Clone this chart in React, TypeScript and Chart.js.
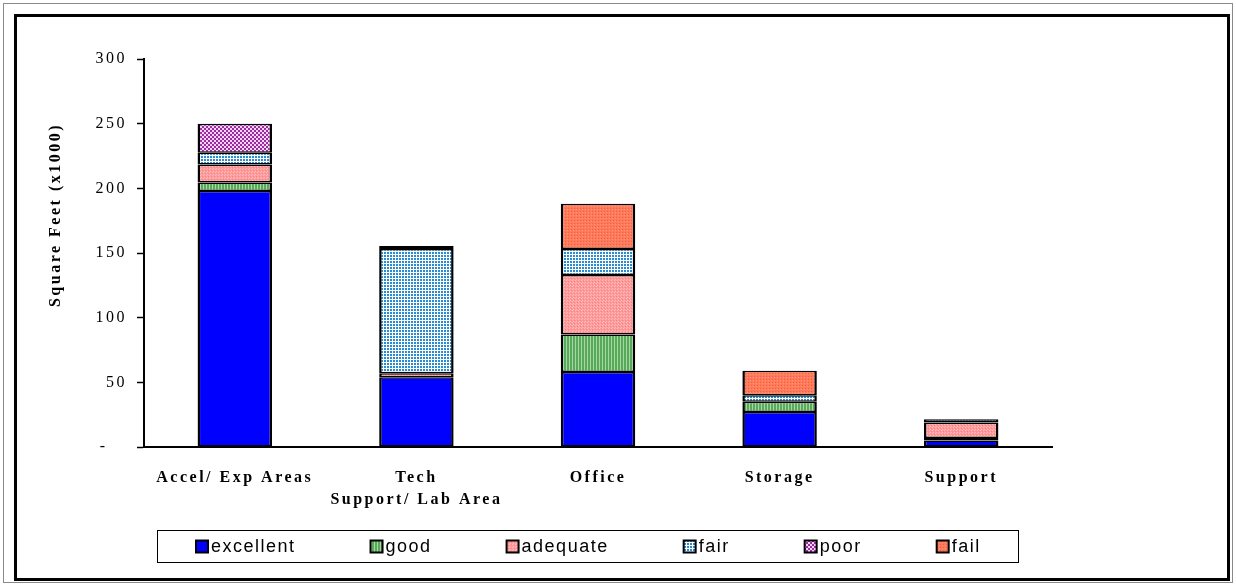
import React, { useEffect, useRef } from 'react';
import { Chart, registerables } from 'chart.js';

Chart.register(...registerables);

// Space categories and condition ratings (square feet, in thousands)
const categories = [['Accel/ Exp Areas'], ['Tech', 'Support/ Lab Area'], ['Office'], ['Storage'], ['Support']];
const excellent = [198, 54, 58, 27, 5];
const good = [6.5, 0, 29, 8, 2];
const adequate = [14, 3, 46, 0, 12];
const fair = [9, 96, 20, 5, 2.5];
const poor = [22.5, 0, 0, 0, 0];
const fail = [0, 2.5, 35, 19, 0];
const seriesNames = ['excellent', 'good', 'adequate', 'fair', 'poor', 'fail'];
const yTicks = [0, 50, 100, 150, 200, 250, 300];
const yTitle = 'Square Feet (x1000)';

const SERIF = '"Times New Roman", "Liberation Serif", serif';
const SANS = 'Arial, "Liberation Sans", sans-serif';

type Painter = (g: CanvasRenderingContext2D) => void;

function makePattern(ctx: CanvasRenderingContext2D, w: number, h: number, paint: Painter) {
  const c = document.createElement('canvas');
  c.width = w;
  c.height = h;
  const g = c.getContext('2d')!;
  paint(g);
  return ctx.createPattern(c, 'repeat')!;
}

function buildFills(ctx: CanvasRenderingContext2D) {
  const solidBlue = '#0000ff';
  const green = makePattern(ctx, 3, 1, (g) => {
    g.fillStyle = '#5aa85a';
    g.fillRect(0, 0, 3, 1);
    g.fillStyle = '#a4d9a4';
    g.fillRect(2, 0, 1, 1);
  });
  const pink = makePattern(ctx, 3, 3, (g) => {
    g.fillStyle = '#ff9999';
    g.fillRect(0, 0, 3, 3);
    g.fillStyle = '#ffbcbc';
    g.fillRect(0, 0, 1, 1);
    g.fillRect(2, 1, 1, 1);
    g.fillStyle = '#f28a8a';
    g.fillRect(1, 2, 1, 1);
  });
  const blueGrid = makePattern(ctx, 3, 3, (g) => {
    g.fillStyle = '#ffffff';
    g.fillRect(0, 0, 3, 3);
    g.fillStyle = '#2a8bd0';
    g.fillRect(0, 0, 2, 2);
  });
  const purple = makePattern(ctx, 4, 4, (g) => {
    g.fillStyle = '#f2d2f2';
    g.fillRect(0, 0, 4, 4);
    g.fillStyle = '#9c2aa0';
    g.fillRect(0, 0, 2, 2);
    g.fillRect(2, 2, 2, 2);
  });
  const orange = makePattern(ctx, 3, 3, (g) => {
    g.fillStyle = '#ff7a5a';
    g.fillRect(0, 0, 3, 3);
    g.fillStyle = '#ef5f42';
    g.fillRect(1, 1, 1, 1);
    g.fillStyle = '#ff9476';
    g.fillRect(0, 2, 1, 1);
  });
  return [solidBlue, green, pink, blueGrid, purple, orange];
}

const spacingPlugin = {
  id: 'letterSpacing',
  beforeUpdate(chart: any) {
    chart.ctx.letterSpacing = '2.5px';
  },
  beforeDraw(chart: any) {
    const ctx = chart.ctx as CanvasRenderingContext2D;
    ctx.letterSpacing = '2.5px';
    ctx.save();
    ctx.fillStyle = '#ffffff';
    ctx.fillRect(0, 0, chart.width, chart.height);
    ctx.restore();
  },
};

const decorPlugin = {
  id: 'decor',
  afterDraw(chart: any) {
    const ctx = chart.ctx as CanvasRenderingContext2D;

    // Rotated y-axis title
    ctx.save();
    ctx.letterSpacing = '2.5px';
    ctx.font = `bold 16px ${SERIF}`;
    ctx.fillStyle = '#000';
    ctx.textAlign = 'center';
    ctx.textBaseline = 'middle';
    ctx.translate(56, 215);
    ctx.rotate(-Math.PI / 2);
    ctx.fillText(yTitle, 0, 0);
    ctx.restore();

    // Boxed legend below the plot
    const box = { left: 157.5, top: 530.5, right: 1018.5, bottom: 562.5 };
    ctx.save();
    ctx.strokeStyle = '#000';
    ctx.lineWidth = 1;
    ctx.strokeRect(box.left, box.top, box.right - box.left, box.bottom - box.top);
    ctx.letterSpacing = '1.5px';
    ctx.font = `18px ${SANS}`;
    ctx.textBaseline = 'middle';
    ctx.textAlign = 'left';
    const sw = 12;
    const gapBox = 3;
    const gapItem = 75;
    const datasets = chart.data.datasets;
    const widths = datasets.map((d: any) => ctx.measureText(d.label).width);
    const total = widths.reduce((a: number, w: number) => a + sw + gapBox + w, 0) + gapItem * (datasets.length - 1);
    let x = Math.round((box.left + box.right) / 2 - total / 2);
    const cy = (box.top + box.bottom) / 2;
    datasets.forEach((d: any, i: number) => {
      ctx.fillStyle = d.backgroundColor;
      ctx.fillRect(x, cy - sw / 2, sw, sw);
      ctx.lineWidth = 2;
      ctx.strokeStyle = '#000';
      ctx.strokeRect(x, cy - sw / 2, sw, sw);
      ctx.fillStyle = '#000';
      ctx.fillText(d.label, x + sw + gapBox, cy + 1);
      x += sw + gapBox + widths[i] + gapItem;
    });
    ctx.restore();

    // Double frame around the whole figure
    ctx.save();
    ctx.strokeStyle = '#8a8a8a';
    ctx.lineWidth = 1;
    ctx.strokeRect(3.5, 3.5, 1229, 579);
    ctx.strokeStyle = '#000';
    ctx.lineWidth = 3;
    ctx.strokeRect(15.5, 15.5, 1213, 564);
    ctx.restore();
  },
};

export default function App() {
  const ref = useRef<HTMLCanvasElement | null>(null);

  useEffect(() => {
    const canvas = ref.current!;
    const ctx = canvas.getContext('2d')!;
    const fills = buildFills(ctx);
    const series = [excellent, good, adequate, fair, poor, fail];

    const chart = new Chart(canvas, {
      type: 'bar',
      data: {
        labels: categories,
        datasets: series.map((values, i) => ({
          label: seriesNames[i],
          data: values,
          backgroundColor: fills[i] as any,
          borderColor: '#000',
          borderWidth: { top: 1.5, bottom: 1.5, left: 2.5, right: 2.5 },
          borderSkipped: false,
          barPercentage: 0.41,
          categoryPercentage: 1,
        })),
      },
      options: {
        responsive: false,
        animation: false,
        devicePixelRatio: 1,
        events: [],
        layout: { padding: { left: 0, right: 184, top: 59, bottom: 37 } },
        plugins: {
          legend: { display: false },
          tooltip: { enabled: false },
          title: { display: false },
        },
        scales: {
          x: {
            stacked: true,
            grid: { display: true, drawOnChartArea: false, drawTicks: false },
            border: { display: true, color: '#000', width: 2 },
            ticks: {
              color: '#000',
              padding: 20,
              maxRotation: 0,
              autoSkip: false,
              font: { family: SERIF, size: 16, weight: 'bold', lineHeight: 1.38 },
            },
            afterFit(scale: any) {
              scale.height = 100;
            },
          },
          y: {
            stacked: true,
            min: 0,
            max: 300,
            afterBuildTicks(scale: any) {
              scale.ticks = yTicks.map((v) => ({ value: v }));
            },
            grid: {
              display: true,
              drawOnChartArea: false,
              drawTicks: true,
              tickLength: 7,
              tickColor: '#000',
              tickWidth: 1.5,
            },
            border: { display: true, color: '#000', width: 2 },
            ticks: {
              color: '#000',
              padding: 10,
              font: { family: SERIF, size: 16 },
              callback: (v: any) => (Number(v) === 0 ? '-   ' : String(v)),
            },
            afterFit(scale: any) {
              scale.width = 144;
            },
          },
        },
      },
      plugins: [spacingPlugin, decorPlugin],
    });

    return () => chart.destroy();
  }, []);

  return (
    <div style={{ position: 'fixed', left: 0, top: 0, width: 1236, height: 584, background: '#fff' }}>
      <canvas ref={ref} width={1236} height={584} style={{ display: 'block', width: 1236, height: 584 }} />
    </div>
  );
}
